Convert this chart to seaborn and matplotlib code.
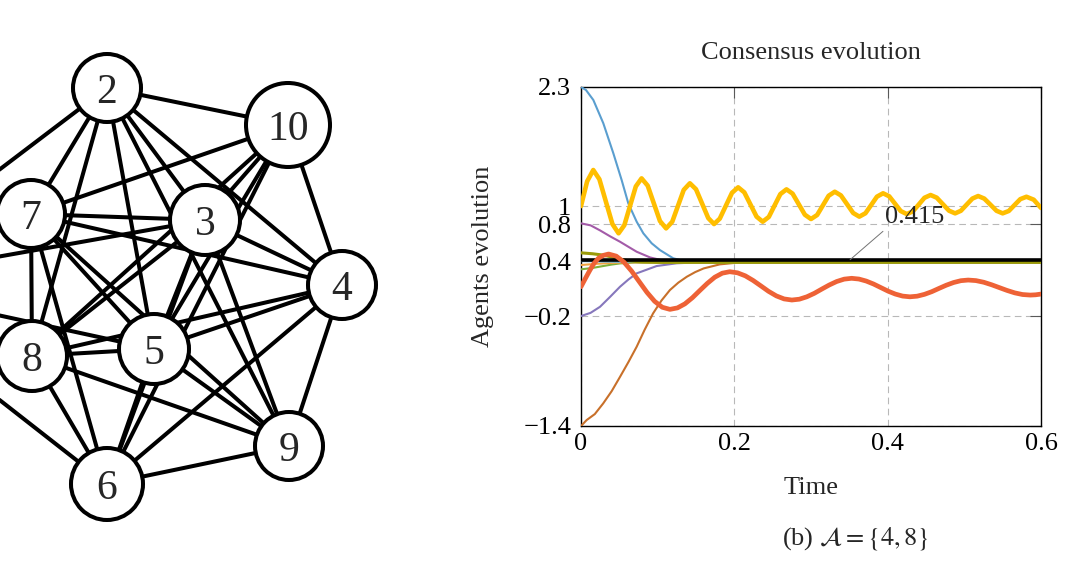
import numpy as np
import pandas as pd
import matplotlib
matplotlib.use("Agg")
import matplotlib.pyplot as plt
import seaborn as sns
from matplotlib.patches import Circle

# ---------------- graph (left panel) ----------------
node_ids = [1, 2, 3, 4, 5, 6, 7, 8, 9, 10]
node_x = [-150, 107, 205, 342, 154, 107, 31, 32, 289, 288]
node_y = [283, 88, 220, 285, 349, 484, 214, 356, 446, 125]
node_r = [34, 34, 35, 34, 35, 36, 34, 35, 34, 42]
edges = [(1, 2), (1, 3), (1, 5), (1, 6),
         (2, 10), (2, 7), (2, 8), (2, 5), (2, 3), (2, 4), (2, 9),
         (10, 7), (10, 4), (10, 8), (10, 3), (10, 5), (10, 6),
         (7, 3), (7, 4), (7, 5), (7, 9), (7, 8), (7, 6),
         (3, 4), (3, 8), (3, 5), (3, 9), (3, 6),
         (4, 9), (4, 5), (4, 8), (4, 6),
         (5, 8), (5, 9), (5, 6),
         (6, 8), (6, 9), (8, 9)]

# ---------------- consensus data (right panel) ----------------
t_blue = [0, 0.0065, 0.0161, 0.0291, 0.0422, 0.053, 0.0617, 0.0726, 0.0813, 0.0922, 0.103, 0.1204, 0.135, 0.16, 0.6]
v_blue = [2.3, 2.267, 2.158, 1.904, 1.576, 1.285, 1.03, 0.83, 0.703, 0.594, 0.52, 0.43, 0.40, 0.39, 0.388]

t_mag = [0, 0.0125, 0.0248, 0.038, 0.0509, 0.062, 0.0726, 0.09, 0.105, 0.125, 0.6]
v_mag = [0.812, 0.79, 0.735, 0.67, 0.611, 0.555, 0.502, 0.44, 0.41, 0.395, 0.388]

t_lav = [0, 0.0125, 0.0248, 0.038, 0.0509, 0.062, 0.0726, 0.0987, 0.1248, 0.15, 0.6]
v_lav = [-0.2, -0.165, -0.099, 0.01, 0.12, 0.20, 0.266, 0.346, 0.376, 0.385, 0.388]

t_brown = [0, 0.0074, 0.018, 0.029, 0.040, 0.051, 0.062, 0.0726, 0.083, 0.094, 0.105, 0.116,
           0.127, 0.138, 0.149, 0.16, 0.181, 0.203, 0.23, 0.6]
v_brown = [-1.40, -1.335, -1.27, -1.153, -1.02, -0.862, -0.70, -0.535, -0.35, -0.171, -0.03, 0.084,
           0.165, 0.229, 0.28, 0.32, 0.364, 0.382, 0.388, 0.388]

t_green = [0, 0.015, 0.029, 0.04, 0.051, 0.07, 0.6]
v_green = [0.31, 0.325, 0.346, 0.362, 0.375, 0.384, 0.386]

t_orange = [0, 0.02, 0.04, 0.06, 0.6]
v_orange = [0.357, 0.37, 0.38, 0.386, 0.386]

t_lblue = [0, 0.03, 0.06, 0.6]
v_lblue = [0.40, 0.395, 0.39, 0.388]

t_olive = [0, 0.015, 0.029, 0.04, 0.051, 0.065, 0.08, 0.1, 0.6]
v_olive = [0.49, 0.48, 0.465, 0.445, 0.42, 0.40, 0.39, 0.386, 0.386]

t_black = [0, 0.6]
v_black = [0.415, 0.415]

t_red = [0, 0.006, 0.0117, 0.017, 0.0226, 0.029, 0.036,
         0.046, 0.056, 0.066, 0.076, 0.086, 0.096, 0.106, 0.116,
         0.1258, 0.1355, 0.1453, 0.155, 0.1648, 0.1745, 0.1843, 0.194,
         0.2041, 0.2143, 0.2244, 0.2345, 0.2446, 0.2548, 0.2649, 0.275,
         0.2848, 0.2945, 0.3043, 0.314, 0.3238, 0.3335, 0.3433, 0.353,
         0.3625, 0.372, 0.3815, 0.391, 0.4005, 0.410, 0.4195, 0.429,
         0.4385, 0.448, 0.4575, 0.467, 0.4765, 0.486, 0.4955, 0.505,
         0.5151, 0.5253, 0.5354, 0.5455, 0.5556, 0.5658, 0.5759, 0.586, 0.593, 0.6]
v_red = [0.12, 0.215, 0.302, 0.375, 0.43, 0.462, 0.477,
         0.454, 0.389, 0.291, 0.175, 0.059, -0.039, -0.104, -0.127,
         -0.111, -0.067, 0.000, 0.079, 0.157, 0.224, 0.268, 0.284,
         0.272, 0.239, 0.189, 0.130, 0.070, 0.020, -0.013, -0.025,
         -0.016, 0.010, 0.048, 0.094, 0.139, 0.177, 0.203, 0.212,
         0.204, 0.182, 0.150, 0.111, 0.072, 0.040, 0.018, 0.010,
         0.017, 0.037, 0.066, 0.102, 0.137, 0.166, 0.186, 0.193,
         0.187, 0.169, 0.142, 0.111, 0.080, 0.053, 0.035, 0.029, 0.032, 0.040]

t_yel = [0, 0.008, 0.016, 0.024, 0.0325, 0.041, 0.049, 0.0565, 0.064, 0.0715, 0.079, 0.087,
         0.095, 0.103, 0.111, 0.119, 0.1265, 0.134, 0.142, 0.150, 0.158, 0.166, 0.1735, 0.181,
         0.189, 0.197, 0.205, 0.213, 0.221, 0.229, 0.237, 0.245, 0.2525, 0.260, 0.268, 0.276,
         0.284, 0.292, 0.300, 0.308, 0.3155, 0.323, 0.331, 0.339, 0.347, 0.355, 0.363, 0.371,
         0.3785, 0.386, 0.394, 0.402, 0.4095, 0.417, 0.425, 0.433, 0.4405, 0.448, 0.456, 0.464,
         0.472, 0.480, 0.488, 0.4955, 0.503, 0.5105, 0.518, 0.526, 0.534, 0.542, 0.550, 0.558,
         0.5655, 0.573, 0.581, 0.5905, 0.600]
v_yel = [1.00, 1.27, 1.394, 1.293, 1.048, 0.804, 0.703, 0.791, 1.003, 1.215, 1.303, 1.223,
         1.030, 0.837, 0.757, 0.829, 1.003, 1.177, 1.249, 1.184, 1.027, 0.869, 0.804, 0.863,
         1.005, 1.146, 1.205, 1.150, 1.018, 0.885, 0.830, 0.882, 1.007, 1.131, 1.183, 1.136,
         1.021, 0.906, 0.859, 0.903, 1.008, 1.113, 1.157, 1.117, 1.021, 0.925, 0.885, 0.922,
         1.012, 1.103, 1.140, 1.107, 1.027, 0.946, 0.913, 0.944, 1.017, 1.091, 1.121, 1.092,
         1.021, 0.950, 0.921, 0.949, 1.016, 1.082, 1.110, 1.082, 1.016, 0.949, 0.921, 0.947,
         1.012, 1.076, 1.102, 1.07, 0.98]

y_ticks = [2.3, 1, 0.8, 0.4, -0.2, -1.4]
y_ticklabels = ["2.3", "1", "0.8", "0.4", "\u22120.2", "\u22121.4"]
x_ticks = [0, 0.2, 0.4, 0.6]
x_ticklabels = ["0", "0.2", "0.4", "0.6"]

# ---------------- styling ----------------
sns.set_style("white")
plt.rcParams["font.family"] = ["Liberation Serif", "DejaVu Serif"]
plt.rcParams["mathtext.fontset"] = "stix"

W, H = 1080, 563
fig = plt.figure(figsize=(W / 100, H / 100), dpi=100)

# ---- left: network ----
gw = 432
axg = fig.add_axes([0, 0, gw / W, 1])
axg.set_xlim(0, gw)
axg.set_ylim(H, 0)
axg.axis("off")
pos = {n: (x, y) for n, x, y in zip(node_ids, node_x, node_y)}
for a, b in edges:
    (x1, y1), (x2, y2) = pos[a], pos[b]
    axg.plot([x1, x2], [y1, y2], color="black", lw=2.9, solid_capstyle="butt", zorder=1)
for n, x, y, r in zip(node_ids, node_x, node_y, node_r):
    axg.add_patch(Circle((x, y), r, facecolor="white", edgecolor="black", lw=2.9, zorder=2))
    if x > 0:  # node 1 lies outside the visible area
        axg.text(x, y, str(n), ha="center", va="center_baseline", fontsize=30, zorder=3)

# ---- right: consensus evolution ----
ax = fig.add_axes([581 / W, (H - 426) / H, 460 / W, 339 / H])

thin = [
    (t_blue, v_blue, "#5A9ECF"),
    (t_mag, v_mag, "#A35BA8"),
    (t_lav, v_lav, "#8677BC"),
    (t_brown, v_brown, "#C8702A"),
    (t_green, v_green, "#7FB03A"),
    (t_orange, v_orange, "#F2A541"),
    (t_lblue, v_lblue, "#6FB7E0"),
]
for t, v, c in thin:
    sns.lineplot(x=t, y=v, ax=ax, color=c, linewidth=1.5, sort=False, estimator=None,
                 legend=False, zorder=3)
sns.lineplot(x=t_olive, y=v_olive, ax=ax, color="#9A9A08", linewidth=2.2, sort=False,
             estimator=None, legend=False, zorder=4)
sns.lineplot(x=t_black, y=v_black, ax=ax, color="black", linewidth=2.6, sort=False,
             estimator=None, legend=False, zorder=5)
sns.lineplot(x=t_red, y=v_red, ax=ax, color="#EE6236", linewidth=3.4, sort=False,
             estimator=None, legend=False, zorder=6, solid_joinstyle="round")
sns.lineplot(x=t_yel, y=v_yel, ax=ax, color="#FFBE00", linewidth=3.3, sort=False,
             estimator=None, legend=False, zorder=6, solid_joinstyle="round")

ax.set_xlim(0, 0.6)
ax.set_ylim(-1.4, 2.3)
ax.set_xticks(x_ticks)
ax.set_xticklabels(x_ticklabels)
ax.set_yticks(y_ticks)
ax.set_yticklabels(y_ticklabels)
ax.tick_params(direction="in", length=8, width=0.8, color="0.35", top=True, right=True,
               labelsize=19, labelcolor="black")
ax.tick_params(axis="y", pad=7)
ax.tick_params(axis="x", pad=5)
ax.grid(True, color="0.72", linestyle=(0, (6, 4)), linewidth=0.8)
ax.set_axisbelow(True)
for s in ax.spines.values():
    s.set_color("black")
    s.set_linewidth(1.0)

ax.set_title("Consensus evolution", fontsize=19, pad=20)
ax.set_xlabel("Time", fontsize=19)
ax.set_ylabel("Agents evolution", fontsize=19)
ax.xaxis.set_label_coords(0.5, -0.15)
ax.yaxis.set_label_coords(-0.19, 0.5)

ax.annotate("0.415", xy=(0.351, 0.415), xytext=(0.3965, 0.815), fontsize=19,
            ha="left", va="baseline", zorder=10,
            arrowprops=dict(arrowstyle="-", color="0.45", lw=0.7, shrinkA=0, shrinkB=0,
                            relpos=(0.03, 0.0)))

fig.text(856 / W, 1 - 538 / H, r"(b) $\mathcal{A}=\{4,8\}$", ha="center", va="center",
         fontsize=19)

fig.savefig("out.png", dpi=100)
